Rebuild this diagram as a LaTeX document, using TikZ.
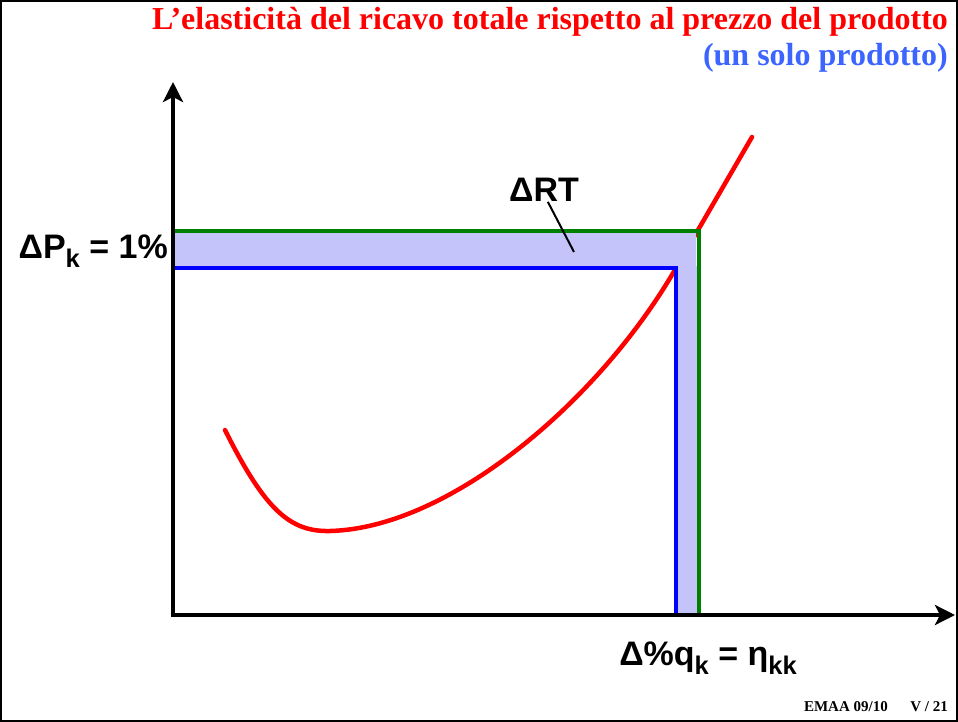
\documentclass[tikz,border=0pt]{standalone}
\usepackage{fontspec}
\setmainfont{Liberation Serif}
\setsansfont{Liberation Sans}
\usetikzlibrary{arrows.meta}
\definecolor{titlered}{RGB}{255,0,0}
\definecolor{titleblue}{RGB}{60,100,255}
\definecolor{bandfill}{RGB}{196,196,250}
\definecolor{rtgreen}{RGB}{0,128,0}
\newcommand{\dn}[1]{\raisebox{-0.25em}{\scalebox{0.75}{#1}}}
\tikzset{
	axis/.style={line width=4.5pt, -{Stealth[length=20pt,width=20pt,inset=5pt]}},
	curve/.style={line width=4.5pt, titlered, line cap=round, line join=round},
	lbl/.style={font=\sffamily\bfseries\fontsize{34}{38}\selectfont, inner sep=0pt},
	band/.style={fill=bandfill, draw=none}
}

\begin{document}
\begin{tikzpicture}[x=1pt, y=-1pt]
	\useasboundingbox (0,0) rectangle (958,722);
	% frame of the slide
	\draw[line width=2pt] (1,1) rectangle (957,721);

	% red curve
	\draw[curve] (225,430) .. controls (265,510) and (290,532) .. (330,531)
		.. controls (450,528) and (600,400) .. (676,268) -- (752,137);

	% shaded area of the revenue change
	\fill[band] (175,233) rectangle (696,266);
	\fill[band] (678,266) rectangle (697,613);

	% main points
	\coordinate (O) at (173,615);
	\coordinate (ytop) at (173,82);
	\coordinate (xend) at (955,615);
	\coordinate (newP) at (173,231);
	\coordinate (newc) at (699,231);
	\coordinate (newq) at (699,615);
	\coordinate (oldP) at (173,268);
	\coordinate (oldc) at (676,268);
	\coordinate (oldq) at (676,615);

	% new and old price-quantity rectangles
	\draw[rtgreen, line width=4pt] (newP) -- (newc) -- (newq);
	\draw[blue, line width=4pt] (oldP) -- (oldc) -- (oldq);

	% axes
	\draw[axis] (O) -- (ytop);
	\draw[axis] ([xshift=-2pt]O) -- (xend);

	% labels
	\node[lbl, anchor=east] (dp) at (168,251) {ΔP\dn{k} = 1\%};
	\node[lbl] (drt) at (544,190) {ΔRT};
	\node[lbl] (dq) at (708,658) {Δ\%q\dn{k} = η\dn{kk}};
	\coordinate (rtend) at (574,252);
	\draw[line width=2pt] (drt.-72) -- (rtend);

	% title
	\node[anchor=base east, inner sep=0pt, titlered, font=\bfseries\fontsize{32}{36}\selectfont] (title) at (948,30) {L’elasticità del ricavo totale rispetto al prezzo del prodotto};
	\node[anchor=base east, inner sep=0pt, titleblue, font=\bfseries\fontsize{32}{36}\selectfont] (subtitle) at (948,66) {(un solo prodotto)};
	\node[anchor=base east, inner sep=0pt, font=\bfseries\fontsize{15}{17}\selectfont] (foot) at (948,711) {EMAA 09/10\hspace{1.5em}V / 21};
\end{tikzpicture}
\end{document}
